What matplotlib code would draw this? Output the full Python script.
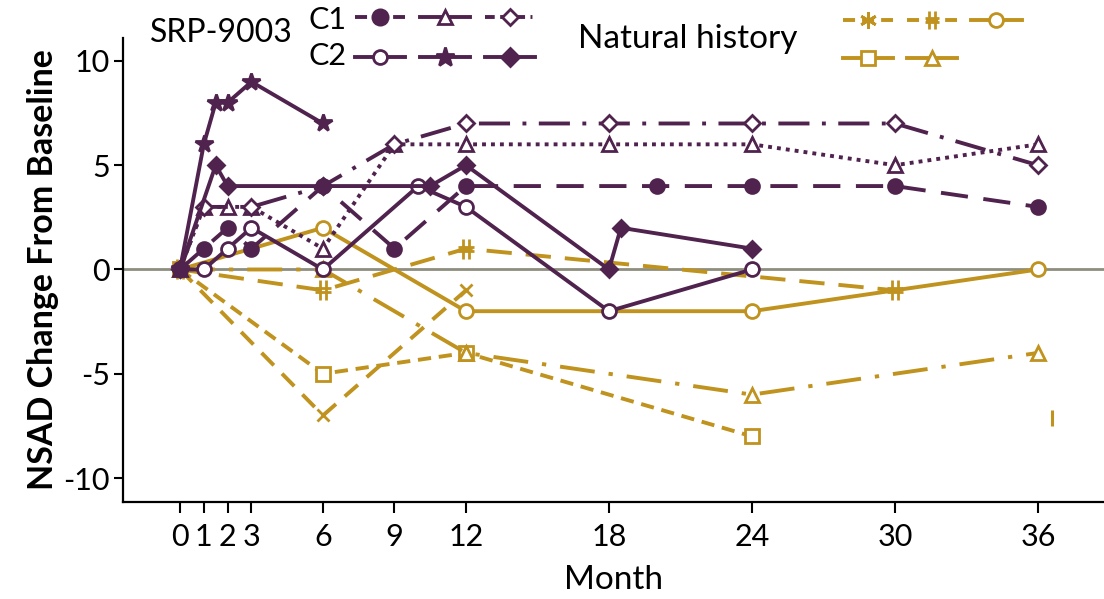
import numpy as np
import matplotlib
matplotlib.use("Agg")
import matplotlib.pyplot as plt
from matplotlib.lines import Line2D
from matplotlib.path import Path

plt.rcParams['font.family'] = ['Lato', 'DejaVu Sans']
plt.rcParams['axes.unicode_minus'] = False

# ---- data ----
# SRP-9003, C1
c1_circ_m = [0, 1, 2, 3, 6, 9, 12, 20, 24, 30, 36]
c1_circ_v = [0, 1, 2, 1, 4, 1, 4, 4, 4, 4, 3]
c1_tri_m = [0, 1, 2, 3, 6, 9, 12, 18, 24, 30, 36]
c1_tri_v = [0, 3, 3, 3, 1, 6, 6, 6, 6, 5, 6]
c1_dia_m = [0, 1, 3, 6, 9, 12, 18, 24, 30, 36]
c1_dia_v = [0, 3, 3, 4, 6, 7, 7, 7, 7, 5]
# SRP-9003, C2
c2_circ_m = [0, 1, 2, 3, 6, 10, 12, 18, 24]
c2_circ_v = [0, 0, 1, 2, 0, 4, 3, -2, 0]
c2_star_m = [0, 1, 1.5, 2, 3, 6]
c2_star_v = [0, 6, 8, 8, 9, 7]
c2_dia_m = [0, 1.5, 2, 6, 10.5, 12, 18, 18.5, 24]
c2_dia_v = [0, 5, 4, 4, 4, 5, 0, 2, 1]
# natural history
nh_ast_m = [0, 6, 12]
nh_ast_v = [0, -7, -1]
nh_hash_m = [0, 6, 12, 30]
nh_hash_v = [0, -1, 1, -1]
nh_circ_m = [0, 6, 12, 24, 36]
nh_circ_v = [0, 2, -2, -2, 0]
nh_sq_m = [0, 6, 12, 24]
nh_sq_v = [0, -5, -4, -8]
nh_tri_m = [0, 6, 12, 24, 36]
nh_tri_v = [0, 0, -4, -6, -4]
stray_m = [36.6]
stray_v = [-7.1]

month_ticks = [0, 1, 2, 3, 6, 9, 12, 18, 24, 30, 36]
val_ticks = [-10, -5, 0, 5, 10]

PURPLE = '#50234F'
GOLD = '#C0921E'
LW = 2.8

# hash-like marker: two vertical and two horizontal bars
hash_marker = Path(
    [(-0.3, -1), (-0.3, 1), (0.3, -1), (0.3, 1), (-0.8, -0.25), (0.8, -0.25), (-0.8, 0.25), (0.8, 0.25)],
    [Path.MOVETO, Path.LINETO] * 4)

fig = plt.figure(figsize=(11.04, 5.99), dpi=100)
ax = fig.add_axes([0.1114, 0.1619, 0.8886, 0.7747])

ax.axhline(0, color='#8E8E7E', lw=2, zorder=1)

def line(m, v, color, ls, marker, ms, filled, z=3):
    ax.plot(m, v, color=color, lw=LW, linestyle=ls, marker=marker, markersize=ms,
            markerfacecolor=color if filled else 'white', markeredgecolor=color,
            markeredgewidth=2, zorder=z)

# natural history
line(nh_ast_m, nh_ast_v, GOLD, (0, (4.5, 3)), 'x', 9, True)
line(nh_hash_m, nh_hash_v, GOLD, (0, (6.5, 3.6)), hash_marker, 14, True)
line(nh_circ_m, nh_circ_v, GOLD, '-', 'o', 10, False)
line(nh_sq_m, nh_sq_v, GOLD, (0, (3.4, 2)), 's', 10, False)
line(nh_tri_m, nh_tri_v, GOLD, (0, (9, 3.6, 1.1, 3.6)), '^', 10, False)
ax.plot(stray_m, stray_v, linestyle='none', marker='|', markersize=12, markeredgewidth=2.2, color=GOLD)

# SRP-9003
line(c1_circ_m, c1_circ_v, PURPLE, (0, (7, 4)), 'o', 10, True, 4)
line(c1_tri_m, c1_tri_v, PURPLE, (0, (1, 1.3)), '^', 10, False, 4)
line(c1_dia_m, c1_dia_v, PURPLE, (0, (8, 3.2, 1, 3.2)), 'D', 8, False, 4)
line(c2_circ_m, c2_circ_v, PURPLE, '-', 'o', 10, False, 4)
line(c2_star_m, c2_star_v, PURPLE, '-', '*', 13, True, 4)
line(c2_dia_m, c2_dia_v, PURPLE, '-', 'D', 8, True, 4)

ax.set_xlim(-2.39, 38.77)
ax.set_ylim(-11.15, 11.1)
ax.set_xticks(month_ticks)
ax.set_yticks(val_ticks)
ax.tick_params(axis='both', labelsize=22, width=1.5, direction='out')
ax.tick_params(axis='x', length=8, pad=7)
ax.tick_params(axis='y', length=6.5, pad=3)
for s in ['top', 'right']:
    ax.spines[s].set_visible(False)
for s in ['left', 'bottom']:
    ax.spines[s].set_linewidth(1.6)
ax.set_xlabel('Month', fontsize=24, labelpad=10)
ax.set_ylabel('NSAD Change From Baseline', fontsize=24.5, fontweight='bold', labelpad=3)

# legends
def h(color, ls, marker, ms, filled):
    return Line2D([], [], color=color, lw=LW, linestyle=ls, marker=marker, markersize=ms,
                  markerfacecolor=color if filled else 'white', markeredgecolor=color,
                  markeredgewidth=2)

LEG_DASH = (0, (3.1, 1.8))
LEG_DASHDOT = (0, (2.5, 1.4, 2.5, 1.4, 2.5, 1.4, 0.5, 2))
srp_handles = [h(PURPLE, LEG_DASH, 'o', 11, True), h(PURPLE, '-', 'o', 10, False),
               h(PURPLE, '-', '^', 10, False), h(PURPLE, '-', '*', 14, True),
               h(PURPLE, LEG_DASHDOT, 'D', 8, False), h(PURPLE, '-', 'D', 9, True)]
fig.legend(srp_handles, [''] * 6, ncol=3, frameon=False, loc='center',
           bbox_to_anchor=(445 / 1104, 1 - 38 / 599), fontsize=14,
           handlelength=2.6, handletextpad=0, columnspacing=0.75, labelspacing=1.2,
           borderpad=0)

nh_handles = [h(GOLD, LEG_DASH, (6, 2, 0), 12, True), h(GOLD, '-', 's', 10, False),
              h(GOLD, LEG_DASH, hash_marker, 13, True), h(GOLD, '-', '^', 10, False),
              h(GOLD, '-', 'o', 10, False)]
fig.legend(nh_handles, [''] * 5, ncol=3, frameon=False, loc='upper left',
           bbox_to_anchor=(833 / 1104, 1 - 3 / 599), fontsize=14,
           handlelength=2.6, handletextpad=0, columnspacing=0.7, labelspacing=1.1,
           borderpad=0)

fig.text(150 / 1104, 1 - 33 / 599, 'SRP-9003', fontsize=23, va='center', ha='left')
fig.text(309 / 1104, 1 - 20 / 599, 'C1', fontsize=22, va='center', ha='left')
fig.text(309 / 1104, 1 - 56 / 599, 'C2', fontsize=22, va='center', ha='left')
fig.text(578 / 1104, 1 - 39 / 599, 'Natural history', fontsize=24, va='center', ha='left')

fig.savefig('out.png', dpi=100)
